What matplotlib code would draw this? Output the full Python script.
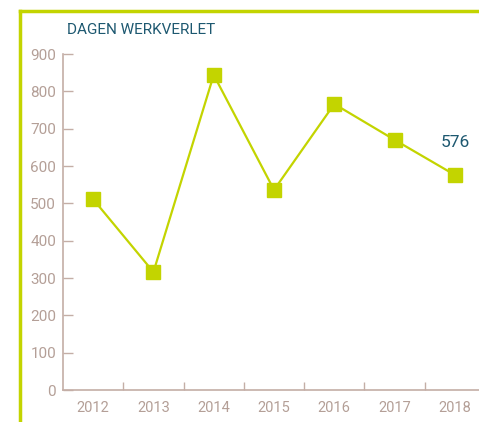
import matplotlib.pyplot as plt
from matplotlib.lines import Line2D

# Gegevens
years = ['2012', '2013', '2014', '2015', '2016', '2017', '2018']
days = [511, 316, 844, 536, 766, 670, 576]
y_ticks = [0, 100, 200, 300, 400, 500, 600, 700, 800, 900]

GREEN = '#c3d400'
AXIS = '#c4aea6'
LABEL = '#b49f97'
TEAL = '#1d5870'

plt.rcParams['font.family'] = ['Liberation Sans Narrow', 'Roboto', 'DejaVu Sans']

fig = plt.figure(figsize=(4.79, 4.22), dpi=100)
W, H = 479, 422
ax = fig.add_axes([63 / W, 32 / H, (W - 63) / W, (390 - 54) / H])

x = list(range(len(years)))
ax.plot(x, days, color=GREEN, linewidth=1.6, marker='s', markersize=10,
        markerfacecolor=GREEN, markeredgecolor=GREEN, zorder=3, clip_on=False)
ax.annotate(str(days[-1]), (x[-1], days[-1]), xytext=(0, 18), textcoords='offset points',
            ha='center', va='bottom', color=TEAL, fontsize=12.5)

ax.set_xlim(-0.5, 6.4)
ax.set_ylim(0, 900)
ax.set_yticks(y_ticks)
ax.set_xticks(x)
ax.set_xticklabels(years)
ax.set_xticks([i + 0.5 for i in x[:-1]], minor=True)

for s in ['top', 'right']:
    ax.spines[s].set_visible(False)
for s in ['left', 'bottom']:
    ax.spines[s].set_color(AXIS)
    ax.spines[s].set_linewidth(1.2)

ax.tick_params(axis='y', direction='in', length=7.5, width=1, color=AXIS,
               labelcolor=LABEL, labelsize=11, pad=5)
ax.tick_params(axis='x', which='major', length=0, labelcolor=LABEL, labelsize=10.5, pad=8)
ax.tick_params(axis='x', which='minor', direction='in', length=6, width=1, color=AXIS)

fig.text(67 / W, 1 - 30 / H, 'DAGEN WERKVERLET', color=TEAL, fontsize=11,
         ha='left', va='center')

# groene kader
fig.add_artist(Line2D([20 / W, 1], [1 - 11 / H, 1 - 11 / H], color=GREEN, linewidth=2.5,
                      transform=fig.transFigure))
fig.add_artist(Line2D([20 / W, 20 / W], [0, 1 - 11 / H], color=GREEN, linewidth=2.5,
                      transform=fig.transFigure))

fig.savefig('out.png', dpi=100)
